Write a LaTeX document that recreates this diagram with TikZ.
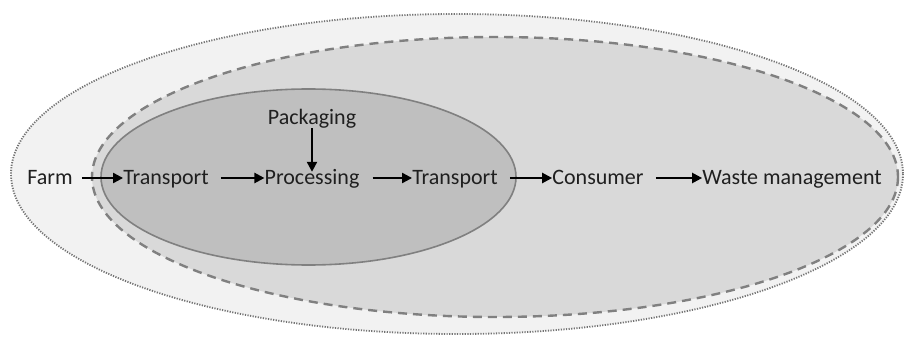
\documentclass[tikz,border=0pt]{standalone}
\usepackage{fontspec}
\setmainfont{Carlito}
\usetikzlibrary{arrows.meta}
\definecolor{outerfill}{HTML}{F2F2F2}
\definecolor{midfill}{HTML}{D9D9D9}
\definecolor{innerfill}{HTML}{BFBFBF}
\definecolor{rimgray}{HTML}{808080}
\tikzset{
  stage/.style={anchor=base, inner sep=0pt, text height=14pt, text depth=0pt,
    font=\fontsize{22}{24}\selectfont, text=black!88},
  flow/.style={line width=2.2pt, -{Triangle[length=10pt,width=10pt]}},
  outerzone/.style={fill=outerfill, draw=rimgray!90!black, line width=1.8pt,
    dash pattern=on 1.2pt off 1.4pt},
  midzone/.style={fill=midfill, draw=rimgray, line width=2.4pt,
    dash pattern=on 9pt off 6pt},
  innerzone/.style={fill=innerfill, draw=rimgray, line width=1.6pt}
}
\begin{document}
\begin{tikzpicture}[x=1pt,y=-1pt]
  \useasboundingbox[fill=white] (0,0) rectangle (904,339);
  % nested scopes of the supply chain
  \path[outerzone] (457,174) ellipse [x radius=446, y radius=160];
  \path[midzone] (495,177) ellipse [x radius=403, y radius=140];
  \path[innerzone] (308.5,177) ellipse [x radius=207.5, y radius=88];
  % stages
  \node[stage] (farm) at (50,185) {Farm};
  \node[stage] (tr1) at (166,185) {Transport};
  \node[stage] (proc) at (312,185) {Processing};
  \node[stage] (pack) at (312,125) {Packaging};
  \node[stage] (tr2) at (455,185) {Transport};
  \node[stage] (cons) at (598,185) {Consumer};
  \node[stage] (waste) at (792,185) {Waste management};
  % flows between stages
  \draw[flow] ([xshift=9pt]farm.east) -- (tr1.west);
  \draw[flow] ([xshift=12pt]tr1.east) -- (proc.west);
  \draw[flow] ([xshift=13pt]proc.east) -- (tr2.west);
  \draw[flow] ([xshift=12pt]tr2.east) -- (cons.west);
  \draw[flow] ([xshift=12pt]cons.east) -- (waste.west);
  \draw[flow] ([yshift=-3pt]pack.south) -- ([yshift=-1pt]proc.north);
\end{tikzpicture}
\end{document}
